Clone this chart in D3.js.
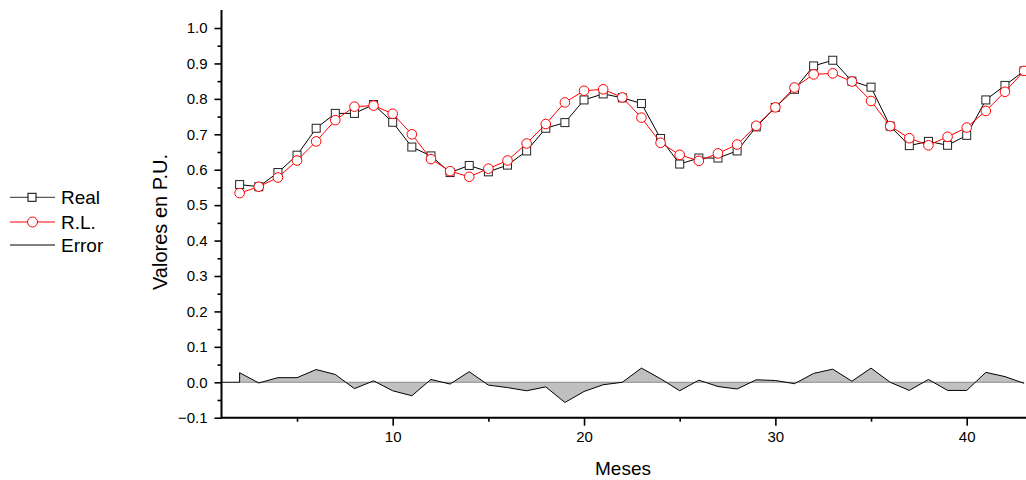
<!DOCTYPE html>
<html>
<head>
<meta charset="utf-8">
<script src="https://cdn.jsdelivr.net/npm/d3@7"></script>
<style>
  html, body { margin: 0; padding: 0; background: #fff; }
  svg { display: block; font-family: "Liberation Sans", Arial, sans-serif; }
</style>
</head>
<body>
<svg id="chart" width="1026" height="480"></svg>
<script>
// Monthly values (per unit)
const months = d3.range(2, 44);
const realValues = [
  0.558, 0.552, 0.592, 0.641, 0.717, 0.759, 0.759, 0.784, 0.734, 0.664,
  0.639, 0.592, 0.612, 0.594, 0.613, 0.653, 0.717, 0.733, 0.797, 0.814,
  0.803, 0.787, 0.688, 0.616, 0.633, 0.633, 0.653, 0.721, 0.776, 0.827,
  0.893, 0.909, 0.850, 0.833, 0.723, 0.668, 0.680, 0.669, 0.697, 0.797,
  0.838, 0.879
];
const rlValues = [
  0.534, 0.552, 0.578, 0.626, 0.680, 0.740, 0.778, 0.781, 0.758, 0.700,
  0.630, 0.596, 0.580, 0.603, 0.626, 0.674, 0.729, 0.790, 0.823, 0.827,
  0.804, 0.747, 0.676, 0.642, 0.625, 0.646, 0.671, 0.724, 0.776, 0.832,
  0.869, 0.872, 0.849, 0.794, 0.723, 0.689, 0.669, 0.693, 0.719, 0.766,
  0.820, 0.879
];
// Error series starts flat at zero before month 2
const errorMonths = [1, 2].concat(d3.range(2, 44));
const errorValues = [
  0, 0,
  0.027, -0.002, 0.013, 0.013, 0.036, 0.022, -0.018, 0.004, -0.024, -0.038,
  0.008, -0.005, 0.030, -0.008, -0.015, -0.024, -0.013, -0.057, -0.026, -0.007,
  0.000, 0.040, 0.010, -0.024, 0.006, -0.012, -0.019, 0.007, 0.005, -0.004,
  0.025, 0.037, 0.003, 0.040, 0.000, -0.023, 0.008, -0.023, -0.023, 0.028,
  0.016, -0.003
];
const xTicks = [10, 20, 30, 40];
const xMinorTicks = [5, 15, 25, 35];
const yTicks = [-0.1, 0.0, 0.1, 0.2, 0.3, 0.4, 0.5, 0.6, 0.7, 0.8, 0.9, 1.0];
const yMinorTicks = [-0.05, 0.05, 0.15, 0.25, 0.35, 0.45, 0.55, 0.65, 0.75, 0.85, 0.95];
const legendItems = ["Real", "R.L.", "Error"];

const svg = d3.select("#chart");
const x = d3.scaleLinear().domain([1, 43]).range([220.5, 1024.1]);
const y = d3.scaleLinear().domain([-0.1, 1.05]).range([417.7, 10.3]);
const x0 = 221.5, yBase = 417.7;

// Error area between curve and zero
const errData = errorMonths.map((m, i) => ({ m, v: errorValues[i] }));
svg.append("path")
  .datum(errData)
  .attr("fill", "#c0c0c0")
  .attr("stroke", "none")
  .attr("d", d3.area().x(d => x(d.m)).y0(y(0)).y1(d => y(d.v)));
svg.append("line")
  .attr("x1", x(2)).attr("x2", x(43))
  .attr("y1", y(0)).attr("y2", y(0))
  .attr("stroke", "#8a8a8a").attr("stroke-width", 1);
svg.append("path")
  .datum(errData)
  .attr("fill", "none")
  .attr("stroke", "#000")
  .attr("stroke-width", 1)
  .attr("d", d3.line().x(d => x(d.m)).y(d => y(d.v)));

// Real series
const realData = months.map((m, i) => ({ m, v: realValues[i] }));
svg.append("path")
  .datum(realData)
  .attr("fill", "none").attr("stroke", "#000").attr("stroke-width", 1)
  .attr("d", d3.line().x(d => x(d.m)).y(d => y(d.v)));
svg.append("g").selectAll("rect")
  .data(realData).join("rect")
  .attr("x", d => x(d.m) - 4).attr("y", d => y(d.v) - 4)
  .attr("width", 8).attr("height", 8)
  .attr("fill", "#fff").attr("stroke", "#222").attr("stroke-width", 1);

// R.L. series
const rlData = months.map((m, i) => ({ m, v: rlValues[i] }));
svg.append("path")
  .datum(rlData)
  .attr("fill", "none").attr("stroke", "#ff0000").attr("stroke-width", 1)
  .attr("d", d3.line().x(d => x(d.m)).y(d => y(d.v)));
svg.append("g").selectAll("circle")
  .data(rlData).join("circle")
  .attr("cx", d => x(d.m)).attr("cy", d => y(d.v)).attr("r", 4.8)
  .attr("fill", "#fff").attr("stroke", "#ff0000").attr("stroke-width", 1);

// Axes
const yAxis = svg.append("g").attr("transform", `translate(${x0},0)`)
  .call(d3.axisLeft(y).tickValues(yTicks).tickSize(7).tickPadding(7)
    .tickFormat(d3.format(".1f")));
const yMinor = svg.append("g").attr("transform", `translate(${x0},0)`)
  .call(d3.axisLeft(y).tickValues(yMinorTicks).tickSize(4).tickFormat(""));
const xAxis = svg.append("g").attr("transform", `translate(0,${yBase})`)
  .call(d3.axisBottom(x).tickValues(xTicks).tickSize(8).tickPadding(6)
    .tickFormat(d3.format("d")));
const xMinor = svg.append("g").attr("transform", `translate(0,${yBase})`)
  .call(d3.axisBottom(x).tickValues(xMinorTicks).tickSize(4).tickFormat(""));

[yAxis, yMinor, xAxis, xMinor].forEach(g => {
  g.select(".domain").remove();
  g.selectAll(".tick line").attr("stroke", "#000").attr("stroke-width", 1.6);
  g.selectAll("text").attr("font-size", 15).attr("fill", "#000")
    .attr("font-family", "Liberation Sans, Arial, sans-serif");
});
svg.append("line").attr("x1", x0).attr("x2", x0).attr("y1", 10).attr("y2", yBase + 0.8)
  .attr("stroke", "#000").attr("stroke-width", 2);
svg.append("line").attr("x1", x0 - 0.5).attr("x2", 1026).attr("y1", yBase).attr("y2", yBase)
  .attr("stroke", "#000").attr("stroke-width", 2);

// Axis titles
svg.append("text")
  .attr("transform", `translate(167,222) rotate(-90)`)
  .attr("text-anchor", "middle")
  .attr("font-size", 20).attr("fill", "#000")
  .text("Valores en P.U.");
svg.append("text")
  .attr("x", 623).attr("y", 475)
  .attr("text-anchor", "middle")
  .attr("font-size", 19).attr("fill", "#000")
  .text("Meses");

// Legend
const legend = svg.append("g");
const rowY = [197.3, 222, 245];
legendItems.forEach((name, i) => {
  const g = legend.append("g").attr("transform", `translate(0,${rowY[i]})`);
  const color = i === 1 ? "#ff0000" : "#000";
  g.append("line").attr("x1", 10).attr("x2", 55).attr("y1", 0).attr("y2", 0)
    .attr("stroke", i === 0 ? "#333" : color).attr("stroke-width", 1);
  if (i === 0) {
    g.append("rect").attr("x", 28).attr("y", -4).attr("width", 8).attr("height", 8)
      .attr("fill", "#fff").attr("stroke", "#000");
  } else if (i === 1) {
    g.append("circle").attr("cx", 32.5).attr("cy", 0).attr("r", 5)
      .attr("fill", "#fff").attr("stroke", "#ff0000");
  }
  g.append("text").attr("x", 61).attr("y", 7)
    .attr("font-size", 19).attr("fill", "#000").text(name);
});
</script>
</body>
</html>
